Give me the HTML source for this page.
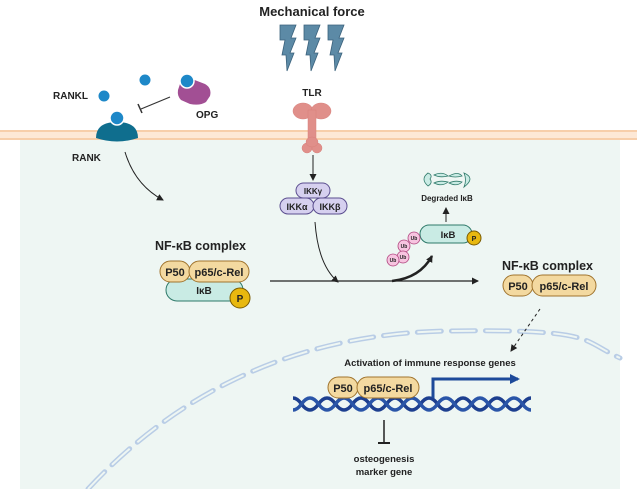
<!DOCTYPE html>
<html><head><meta charset="utf-8"><style>
body{margin:0;width:637px;height:489px;overflow:hidden;background:#fff}
svg{display:block}
text{font-family:"Liberation Sans",sans-serif;font-weight:bold;fill:#222}
</style></head><body>
<svg width="637" height="489" viewBox="0 0 637 489">
<defs>
<marker id="a" markerWidth="8" markerHeight="8" refX="6" refY="4" orient="auto" markerUnits="userSpaceOnUse"><path d="M0,0.5 L7,4 L0,7.5z" fill="#222"/></marker>
<marker id="ab" markerWidth="10" markerHeight="10" refX="8" refY="5" orient="auto" markerUnits="userSpaceOnUse"><path d="M0,0 L10,5 L0,10z" fill="#1d4a9a"/></marker>
</defs>
<rect x="20" y="136" width="600" height="353" fill="#eef6f3"/>
<rect x="0" y="130" width="637" height="10" fill="#fde8d6"/>
<line x1="0" y1="131" x2="637" y2="131" stroke="#f5c59c" stroke-width="1.5"/>
<line x1="0" y1="139" x2="637" y2="139" stroke="#f5c59c" stroke-width="1.5"/>
<!-- nuclear membrane -->
<path d="M88,489 C180,390 300,333 449,331 S580,340 620,358" fill="none" stroke="#b9cde6" stroke-width="5" stroke-dasharray="24 10" stroke-linecap="round"/>
<path d="M88,489 C180,390 300,333 449,331 S580,340 620,358" fill="none" stroke="#eef6f3" stroke-width="2" stroke-dasharray="24 10"/>
<text x="312" y="16" font-size="13" text-anchor="middle">Mechanical force</text>
<g fill="#5c8aa6" stroke="#3b627c" stroke-width="0.8">
<path d="M280,25 L296,25 L291,38 L296,38 L290,53 L294,53 L287,71 L286,55 L282,55 L285,40 L280,40z"/>
<path d="M304,25 L320,25 L315,38 L320,38 L314,53 L318,53 L311,71 L310,55 L306,55 L309,40 L304,40z"/>
<path d="M328,25 L344,25 L339,38 L344,38 L338,53 L342,53 L335,71 L334,55 L330,55 L333,40 L328,40z"/>
</g>
<text x="53" y="99" font-size="10">RANKL</text>
<circle cx="104" cy="96" r="6" fill="#1e88c8" stroke="#fff"/>
<circle cx="145" cy="80" r="6" fill="#1e88c8" stroke="#fff"/>
<path d="M180,84 Q182,78 192,79 L205,84 Q212,88 210,96 L206,102 Q200,106 190,104 L181,100 Q177,96 178,90z" fill="#a24f94"/>
<circle cx="187" cy="81" r="7" fill="#1e88c8" stroke="#fff" stroke-width="1.5"/>
<text x="196" y="118" font-size="10">OPG</text>
<line x1="170" y1="97" x2="141" y2="109" stroke="#333" stroke-width="1.2"/>
<line x1="138" y1="104" x2="142" y2="113" stroke="#333" stroke-width="1.5"/>
<path d="M96,138 Q96,122 117,122 Q138,122 138,138 Q117,145 96,138z" fill="#0f6e8e"/>
<circle cx="117" cy="118" r="7" fill="#1e88c8" stroke="#fff" stroke-width="1.5"/>
<text x="72" y="161" font-size="10">RANK</text>
<path d="M125,152 Q135,185 163,200" fill="none" stroke="#222" stroke-width="1" marker-end="url(#a)"/>
<!-- TLR -->
<text x="312" y="96" font-size="10" text-anchor="middle">TLR</text>
<g fill="#e08f8a" stroke="#d8807b" stroke-width="0.5">
<ellipse cx="303" cy="111" rx="10" ry="8"/><ellipse cx="321" cy="111" rx="10" ry="8"/>
<rect x="308" y="110" width="8" height="35"/>
<ellipse cx="307" cy="148" rx="5" ry="5"/><ellipse cx="317" cy="148" rx="5" ry="5"/><ellipse cx="312" cy="142" rx="6" ry="5"/>
</g>
<line x1="313" y1="155" x2="313" y2="180" stroke="#222" marker-end="url(#a)"/>
<g stroke="#5b4e8f" stroke-width="1" fill="#d6d0ef">
<rect x="296" y="183" width="34" height="15" rx="7.5"/>
<rect x="280" y="198" width="34" height="16" rx="8"/>
<rect x="313" y="198" width="34" height="16" rx="8"/>
</g>
<text x="313" y="194" font-size="8" text-anchor="middle">IKKγ</text>
<text x="297" y="210" font-size="9" text-anchor="middle">IKKα</text>
<text x="330" y="210" font-size="9" text-anchor="middle">IKKβ</text>
<path d="M315,222 Q318,265 338,282" fill="none" stroke="#222" marker-end="url(#a)"/>
<line x1="270" y1="281" x2="478" y2="281" stroke="#222" stroke-width="1.2" marker-end="url(#a)"/>
<!-- left complex -->
<text x="155" y="250" font-size="12.5">NF-κB complex</text>
<rect x="166" y="279" width="77" height="22" rx="11" fill="#c9ebe4" stroke="#2f7a6a"/>
<text x="204" y="294" font-size="10" text-anchor="middle">IκB</text>
<circle cx="240" cy="298" r="10" fill="#e8b80f" stroke="#7a5b00"/>
<text x="240" y="302" font-size="10" text-anchor="middle">P</text>
<rect x="160" y="261" width="30" height="21" rx="10.5" fill="#f3d9a0" stroke="#a0742e"/>
<text x="175" y="276" font-size="11" text-anchor="middle">P50</text>
<rect x="189" y="261" width="60" height="21" rx="10.5" fill="#f3d9a0" stroke="#a0742e"/>
<text x="219" y="276" font-size="11" text-anchor="middle">p65/c-Rel</text>
<!-- ub -->
<path d="M392,281 Q420,278 432,256" fill="none" stroke="#222" stroke-width="2.5" marker-end="url(#a)"/>
<rect x="420" y="225" width="52" height="18" rx="9" fill="#c9ebe4" stroke="#2f7a6a"/>
<text x="448" y="238" font-size="9.5" text-anchor="middle">IκB</text>
<circle cx="474" cy="238" r="7" fill="#e8b80f" stroke="#7a5b00"/>
<text x="474" y="241" font-size="7" text-anchor="middle">P</text>
<g fill="#f7c4e0" stroke="#b0457f" stroke-width="0.8">
<circle cx="414" cy="238" r="6"/><circle cx="404" cy="246" r="6"/><circle cx="403" cy="257" r="6"/><circle cx="393" cy="260" r="6"/>
</g>
<g font-size="5" text-anchor="middle"><text x="414" y="240">Ub</text><text x="404" y="248">Ub</text><text x="403" y="259">Ub</text><text x="393" y="262">Ub</text></g>
<line x1="446" y1="222" x2="446" y2="208" stroke="#222" marker-end="url(#a)"/>
<text x="447" y="201" font-size="8" text-anchor="middle">Degraded IκB</text>
<g fill="#c9ebe4" stroke="#2f7a6a" stroke-width="0.8">
<path d="M428,173 Q420,179 428,186 Q433,183 430,179 Q433,175 428,173z"/>
<path d="M434,175 Q442,171 448,176 Q440,178 434,175z M434,183 Q442,187 448,182 Q440,180 434,183z"/>
<path d="M449,176 Q458,171 462,176 Q455,178 449,176z M449,183 Q457,187 462,182 Q455,180 449,183z"/>
<path d="M464,173 Q476,178 464,187 Q467,180 464,173z"/>
</g>
<!-- right complex -->
<text x="502" y="270" font-size="12.5">NF-κB complex</text>
<rect x="503" y="275" width="30" height="21" rx="10.5" fill="#f3d9a0" stroke="#a0742e"/>
<text x="518" y="290" font-size="11" text-anchor="middle">P50</text>
<rect x="532" y="275" width="64" height="21" rx="10.5" fill="#f3d9a0" stroke="#a0742e"/>
<text x="564" y="290" font-size="11" text-anchor="middle">p65/c-Rel</text>
<line x1="540" y1="309" x2="511" y2="351" stroke="#222" stroke-dasharray="3 3" marker-end="url(#a)"/>
<text x="430" y="366" font-size="9.5" text-anchor="middle">Activation of immune response genes</text>
<!-- DNA -->
<g fill="none" stroke-width="3.5">
<path stroke="#1d3f8f" d="M293,398 q4.25,0 8.5,6 t8.5,6 t8.5,-6 t8.5,-6 t8.5,6 t8.5,6 t8.5,-6 t8.5,-6 t8.5,6 t8.5,6 t8.5,-6 t8.5,-6 t8.5,6 t8.5,6 t8.5,-6 t8.5,-6 t8.5,6 t8.5,6 t8.5,-6 t8.5,-6 t8.5,6 t8.5,6 t8.5,-6 t8.5,-6 t8.5,6 t8.5,6 t8.5,-6 t8.5,-6"/>
<path stroke="#2a55a8" d="M293,410 q4.25,0 8.5,-6 t8.5,-6 t8.5,6 t8.5,6 t8.5,-6 t8.5,-6 t8.5,6 t8.5,6 t8.5,-6 t8.5,-6 t8.5,6 t8.5,6 t8.5,-6 t8.5,-6 t8.5,6 t8.5,6 t8.5,-6 t8.5,-6 t8.5,6 t8.5,6 t8.5,-6 t8.5,-6 t8.5,6 t8.5,6 t8.5,-6 t8.5,-6 t8.5,6 t8.5,6"/>
</g>
<path d="M433,398 L433,379 L518,379" fill="none" stroke="#1d4a9a" stroke-width="3" marker-end="url(#ab)"/>
<rect x="328" y="377" width="30" height="21" rx="10.5" fill="#f3d9a0" stroke="#a0742e"/>
<text x="343" y="392" font-size="11" text-anchor="middle">P50</text>
<rect x="357" y="377" width="62" height="21" rx="10.5" fill="#f3d9a0" stroke="#a0742e"/>
<text x="388" y="392" font-size="11" text-anchor="middle">p65/c-Rel</text>
<line x1="384" y1="420" x2="384" y2="443" stroke="#222" stroke-width="1.5"/>
<line x1="378" y1="443" x2="390" y2="443" stroke="#222" stroke-width="2"/>
<text x="384" y="462" font-size="9.5" text-anchor="middle">osteogenesis</text>
<text x="384" y="475" font-size="9.5" text-anchor="middle">marker gene</text>
</svg>
</body></html>
